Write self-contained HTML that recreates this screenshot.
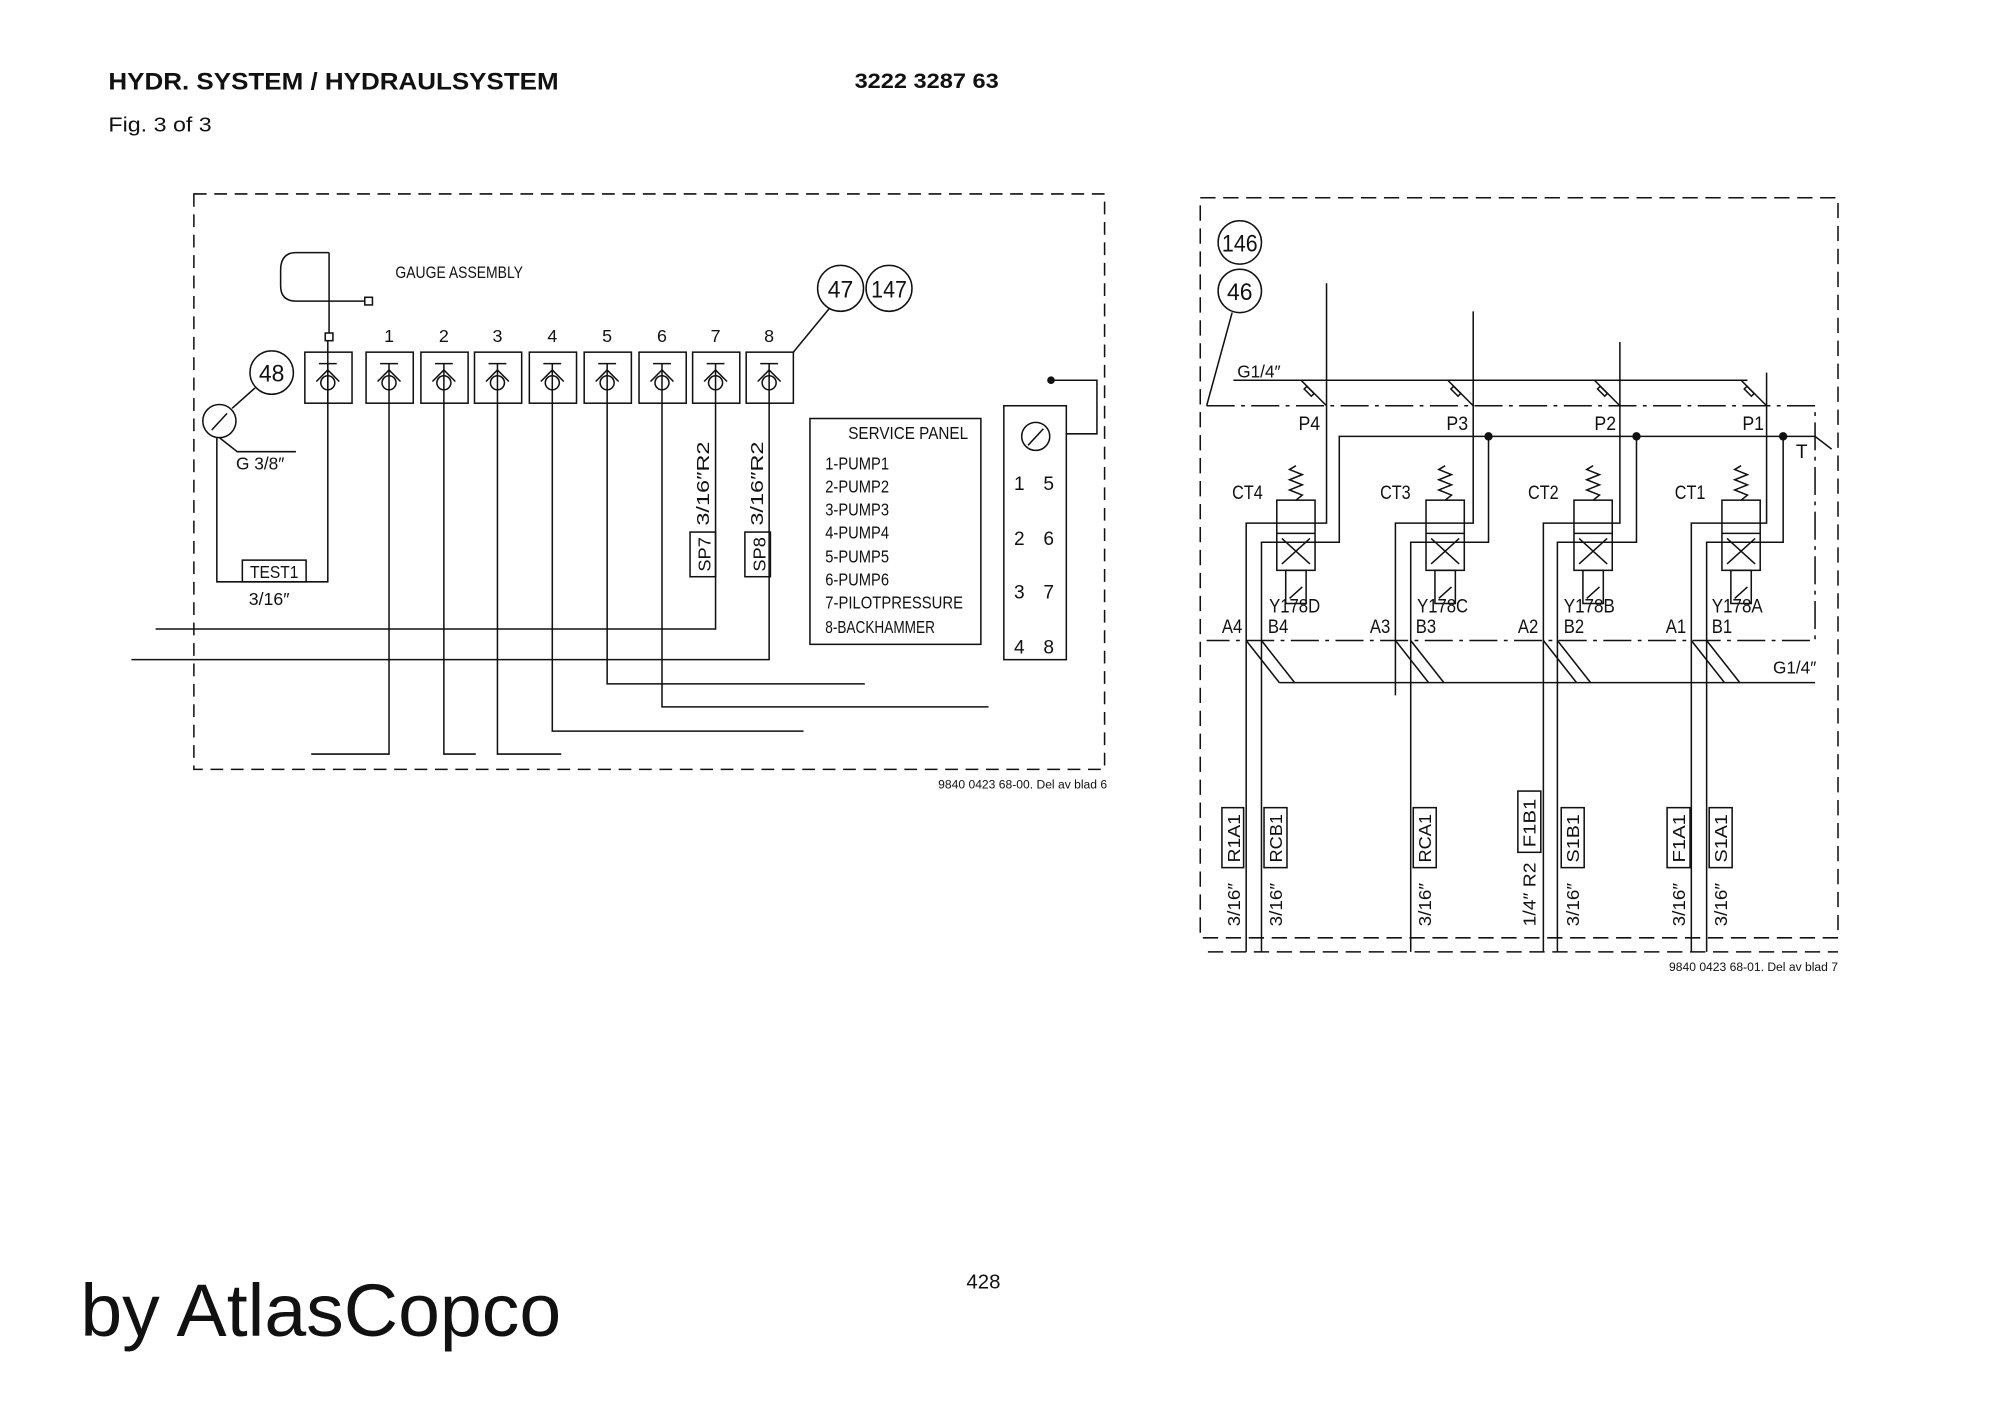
<!DOCTYPE html>
<html><head><meta charset="utf-8"><style>
html,body{margin:0;padding:0;background:#fff;}
svg{display:block;}
.n{font-family:"Liberation Sans Narrow","Liberation Sans",sans-serif;font-size:14px;fill:#111;}
.s{font-family:"Liberation Sans",sans-serif;fill:#111;}
</style></head><body>
<svg width="2000" height="1415" viewBox="0 0 1568 1109" preserveAspectRatio="none" xmlns="http://www.w3.org/2000/svg">
<defs>
<g id="cv" fill="none" stroke="#111" stroke-width="1.2">
<rect x="-18" y="0" width="37" height="40"/>
<line x1="-7" y1="9" x2="7" y2="9"/>
<line x1="0" y1="9" x2="0" y2="40"/>
<circle cx="0" cy="24" r="5.5"/>
<polyline points="-9,23 0,14 9,23"/>
</g>
<g id="vl" fill="none" stroke="#111" stroke-width="1.2">
<polyline points="0,-27 -5,-24 5,-20 -5,-16 5,-12 -5,-8 5,-4 0,0"/>
<rect x="-15" y="0" width="30" height="55"/>
<line x1="-15" y1="26" x2="15" y2="26"/>
<line x1="-11" y1="30" x2="11" y2="50"/><line x1="11" y1="30" x2="-11" y2="50"/>
<rect x="-8" y="55" width="16" height="26"/>
<line x1="-5" y1="77" x2="5" y2="68"/>
</g>
<g id="dg" stroke="#111" stroke-width="1.2" fill="none">
<line x1="0" y1="0" x2="20" y2="20"/>
<rect x="5" y="5" width="3" height="8" transform="rotate(-45 6 9)"/>
</g>
</defs>
<rect width="1568" height="1109" fill="#fff"/>
<text x="85" y="70" class="s" font-size="19" font-weight="bold" textLength="353" lengthAdjust="spacingAndGlyphs">HYDR. SYSTEM / HYDRAULSYSTEM</text>
<text x="670" y="69" class="s" font-size="17" font-weight="bold" textLength="113" lengthAdjust="spacingAndGlyphs">3222 3287 63</text>
<text x="85" y="103" class="s" font-size="16" textLength="81" lengthAdjust="spacingAndGlyphs">Fig. 3 of 3</text>

<g fill="none" stroke="#111" stroke-width="1.2">
<rect x="152" y="152" width="714" height="451" stroke-dasharray="10,6"/>
<path d="M258,198 L232,198 Q220,198 220,212 L220,224 Q220,236 232,236 L286,236"/>
<rect x="286" y="233" width="6" height="6"/>
<line x1="258" y1="198" x2="258" y2="261"/>
<rect x="255" y="261" width="6" height="6"/>
<circle cx="213" cy="292" r="17"/>
<circle cx="172" cy="330" r="13"/>
<line x1="200" y1="304" x2="182" y2="320"/>
<line x1="178" y1="324" x2="166" y2="337"/>
<polyline points="172,343 186,354 232,354"/>
<polyline points="170,343 170,456 257,456 257,267"/>
<rect x="190" y="439" width="50" height="17"/>
<polyline points="305,316 305,591 244,591"/>
<polyline points="348,316 348,591 373,591"/>
<polyline points="390,316 390,591 440,591"/>
<polyline points="433,316 433,573 630,573"/>
<polyline points="476,316 476,536 678,536"/>
<polyline points="519,316 519,554 775,554"/>
<polyline points="561,316 561,493 122,493"/>
<polyline points="603,316 603,517 103,517"/>
<rect x="541" y="417" width="20" height="35"/>
<rect x="584" y="417" width="20" height="35"/>
<circle cx="659" cy="226" r="18"/>
<circle cx="697" cy="226" r="18"/>
<line x1="650" y1="242" x2="622" y2="276"/>
<rect x="635" y="328" width="134" height="177"/>
<rect x="787" y="318" width="49" height="199"/>
<circle cx="812" cy="342" r="11"/>
<line x1="806" y1="349" x2="818" y2="336"/>
<polyline points="824,298 860,298 860,340 836,340"/>
</g>
<circle cx="824" cy="298" r="3" fill="#111"/>
<use href="#cv" x="257" y="276"/>
<use href="#cv" x="305" y="276"/><use href="#cv" x="348" y="276"/><use href="#cv" x="390" y="276"/>
<use href="#cv" x="433" y="276"/><use href="#cv" x="476" y="276"/><use href="#cv" x="519" y="276"/>
<use href="#cv" x="561" y="276"/><use href="#cv" x="603" y="276"/>
<g class="n">
<text x="310" y="218" font-size="13" textLength="100" lengthAdjust="spacingAndGlyphs">GAUGE ASSEMBLY</text>
<text x="305" y="268" text-anchor="middle">1</text><text x="348" y="268" text-anchor="middle">2</text>
<text x="390" y="268" text-anchor="middle">3</text><text x="433" y="268" text-anchor="middle">4</text>
<text x="476" y="268" text-anchor="middle">5</text><text x="519" y="268" text-anchor="middle">6</text>
<text x="561" y="268" text-anchor="middle">7</text><text x="603" y="268" text-anchor="middle">8</text>
<text x="213" y="299" text-anchor="middle" font-size="19" textLength="20" lengthAdjust="spacingAndGlyphs">48</text>
<text x="659" y="233" text-anchor="middle" font-size="19" textLength="20" lengthAdjust="spacingAndGlyphs">47</text>
<text x="697" y="233" text-anchor="middle" font-size="19" textLength="28" lengthAdjust="spacingAndGlyphs">147</text>
<text x="185" y="368" textLength="38" lengthAdjust="spacingAndGlyphs">G 3/8″</text>
<text x="196" y="453" textLength="38" lengthAdjust="spacingAndGlyphs">TEST1</text>
<text x="195" y="474" textLength="32" lengthAdjust="spacingAndGlyphs">3/16″</text>
<text transform="translate(557,448) rotate(-90)" textLength="27" lengthAdjust="spacingAndGlyphs">SP7</text>
<text transform="translate(600,448) rotate(-90)" textLength="27" lengthAdjust="spacingAndGlyphs">SP8</text>
<text transform="translate(556,412) rotate(-90)" textLength="66" lengthAdjust="spacingAndGlyphs">3/16″R2</text>
<text transform="translate(598,412) rotate(-90)" textLength="66" lengthAdjust="spacingAndGlyphs">3/16″R2</text>
<text x="665" y="344" textLength="94" lengthAdjust="spacingAndGlyphs">SERVICE PANEL</text>
<text x="647" y="368" textLength="50" lengthAdjust="spacingAndGlyphs">1-PUMP1</text>
<text x="647" y="386" textLength="50" lengthAdjust="spacingAndGlyphs">2-PUMP2</text>
<text x="647" y="404" textLength="50" lengthAdjust="spacingAndGlyphs">3-PUMP3</text>
<text x="647" y="422" textLength="50" lengthAdjust="spacingAndGlyphs">4-PUMP4</text>
<text x="647" y="441" textLength="50" lengthAdjust="spacingAndGlyphs">5-PUMP5</text>
<text x="647" y="459" textLength="50" lengthAdjust="spacingAndGlyphs">6-PUMP6</text>
<text x="647" y="477" textLength="108" lengthAdjust="spacingAndGlyphs">7-PILOTPRESSURE</text>
<text x="647" y="496" textLength="86" lengthAdjust="spacingAndGlyphs">8-BACKHAMMER</text>
<text x="795" y="384" font-size="15">1</text><text x="818" y="384" font-size="15">5</text>
<text x="795" y="427" font-size="15">2</text><text x="818" y="427" font-size="15">6</text>
<text x="795" y="469" font-size="15">3</text><text x="818" y="469" font-size="15">7</text>
<text x="795" y="512" font-size="15">4</text><text x="818" y="512" font-size="15">8</text>
</g>
<text x="868" y="618" class="s" font-size="9.5" text-anchor="end">9840 0423 68-00. Del av blad 6</text>

<g fill="none" stroke="#111" stroke-width="1.2">
<rect x="941" y="155" width="500" height="580" stroke-dasharray="12,6"/>
<line x1="947" y1="746" x2="1441" y2="746" stroke-dasharray="12,6"/>
<polyline points="946,318 1423,318 1423,502 946,502" stroke-dasharray="22,5,3,5"/>
<circle cx="972" cy="190" r="17"/>
<circle cx="972" cy="228" r="17"/>
<line x1="966" y1="245" x2="946" y2="318"/>
<line x1="967" y1="298" x2="1370" y2="298"/>
<polyline points="1040,222 1040,410 977,410 977,746"/>
<polyline points="1155,244 1155,410 1094,410 1094,545"/>
<polyline points="1270,268 1270,410 1210,410 1210,746"/>
<polyline points="1385,292 1385,410 1326,410 1326,746"/>
<polyline points="989,746 989,425 1050,425 1050,342 1423,342 1436,352"/>
<polyline points="1106,746 1106,425 1167,425 1167,342"/>
<polyline points="1221,746 1221,425 1283,425 1283,342"/>
<polyline points="1338,746 1338,425 1398,425 1398,342"/>
<line x1="1003" y1="535" x2="1423" y2="535"/>
<rect x="958" y="633" width="17" height="47"/><rect x="991" y="633" width="18" height="47"/>
<rect x="1108" y="633" width="18" height="47"/><rect x="1190" y="620" width="18" height="48"/>
<rect x="1224" y="633" width="18" height="47"/><rect x="1307" y="633" width="18" height="47"/>
<rect x="1340" y="633" width="18" height="47"/>
</g>
<g fill="#111">
<circle cx="1167" cy="342" r="3.3"/><circle cx="1283" cy="342" r="3.3"/><circle cx="1398" cy="342" r="3.3"/>
</g>
<use href="#dg" x="1020" y="298"/><use href="#dg" x="1135" y="298"/><use href="#dg" x="1250" y="298"/><use href="#dg" x="1365" y="298"/>
<g stroke="#111" stroke-width="1.2" fill="none">
<line x1="977" y1="502" x2="1003" y2="535"/><line x1="989" y1="502" x2="1015" y2="535"/>
<line x1="1094" y1="502" x2="1120" y2="535"/><line x1="1106" y1="502" x2="1132" y2="535"/>
<line x1="1210" y1="502" x2="1236" y2="535"/><line x1="1221" y1="502" x2="1247" y2="535"/>
<line x1="1326" y1="502" x2="1352" y2="535"/><line x1="1338" y1="502" x2="1364" y2="535"/>
</g>
<use href="#vl" x="1016" y="392"/><use href="#vl" x="1133" y="392"/>
<use href="#vl" x="1249" y="392"/><use href="#vl" x="1365" y="392"/>
<g class="n">
<text x="972" y="197" text-anchor="middle" font-size="19" textLength="28" lengthAdjust="spacingAndGlyphs">146</text>
<text x="972" y="235" text-anchor="middle" font-size="19" textLength="20" lengthAdjust="spacingAndGlyphs">46</text>
<text x="970" y="296" textLength="34" lengthAdjust="spacingAndGlyphs">G1/4″</text>
<text x="1390" y="528" textLength="34" lengthAdjust="spacingAndGlyphs">G1/4″</text>
<text x="1018" y="337" font-size="15" textLength="17" lengthAdjust="spacingAndGlyphs">P4</text>
<text x="1134" y="337" font-size="15" textLength="17" lengthAdjust="spacingAndGlyphs">P3</text>
<text x="1250" y="337" font-size="15" textLength="17" lengthAdjust="spacingAndGlyphs">P2</text>
<text x="1366" y="337" font-size="15" textLength="17" lengthAdjust="spacingAndGlyphs">P1</text>
<text x="1408" y="359" font-size="15">T</text>
<text x="966" y="391" font-size="15" textLength="24" lengthAdjust="spacingAndGlyphs">CT4</text>
<text x="1082" y="391" font-size="15" textLength="24" lengthAdjust="spacingAndGlyphs">CT3</text>
<text x="1198" y="391" font-size="15" textLength="24" lengthAdjust="spacingAndGlyphs">CT2</text>
<text x="1313" y="391" font-size="15" textLength="24" lengthAdjust="spacingAndGlyphs">CT1</text>
<text x="995" y="480" font-size="15" textLength="40" lengthAdjust="spacingAndGlyphs">Y178D</text>
<text x="1111" y="480" font-size="15" textLength="40" lengthAdjust="spacingAndGlyphs">Y178C</text>
<text x="1226" y="480" font-size="15" textLength="40" lengthAdjust="spacingAndGlyphs">Y178B</text>
<text x="1342" y="480" font-size="15" textLength="40" lengthAdjust="spacingAndGlyphs">Y178A</text>
<text x="958" y="496" font-size="15" textLength="16" lengthAdjust="spacingAndGlyphs">A4</text>
<text x="994" y="496" font-size="15" textLength="16" lengthAdjust="spacingAndGlyphs">B4</text>
<text x="1074" y="496" font-size="15" textLength="16" lengthAdjust="spacingAndGlyphs">A3</text>
<text x="1110" y="496" font-size="15" textLength="16" lengthAdjust="spacingAndGlyphs">B3</text>
<text x="1190" y="496" font-size="15" textLength="16" lengthAdjust="spacingAndGlyphs">A2</text>
<text x="1226" y="496" font-size="15" textLength="16" lengthAdjust="spacingAndGlyphs">B2</text>
<text x="1306" y="496" font-size="15" textLength="16" lengthAdjust="spacingAndGlyphs">A1</text>
<text x="1342" y="496" font-size="15" textLength="16" lengthAdjust="spacingAndGlyphs">B1</text>
<text transform="translate(972,676) rotate(-90)" textLength="38" lengthAdjust="spacingAndGlyphs">R1A1</text>
<text transform="translate(1005,676) rotate(-90)" textLength="38" lengthAdjust="spacingAndGlyphs">RCB1</text>
<text transform="translate(1122,676) rotate(-90)" textLength="38" lengthAdjust="spacingAndGlyphs">RCA1</text>
<text transform="translate(1204,664) rotate(-90)" textLength="38" lengthAdjust="spacingAndGlyphs">F1B1</text>
<text transform="translate(1238,676) rotate(-90)" textLength="38" lengthAdjust="spacingAndGlyphs">S1B1</text>
<text transform="translate(1321,676) rotate(-90)" textLength="38" lengthAdjust="spacingAndGlyphs">F1A1</text>
<text transform="translate(1354,676) rotate(-90)" textLength="38" lengthAdjust="spacingAndGlyphs">S1A1</text>
<text transform="translate(972,726) rotate(-90)" textLength="34" lengthAdjust="spacingAndGlyphs">3/16″</text>
<text transform="translate(1005,726) rotate(-90)" textLength="34" lengthAdjust="spacingAndGlyphs">3/16″</text>
<text transform="translate(1122,726) rotate(-90)" textLength="34" lengthAdjust="spacingAndGlyphs">3/16″</text>
<text transform="translate(1204,726) rotate(-90)" textLength="50" lengthAdjust="spacingAndGlyphs">1/4″ R2</text>
<text transform="translate(1238,726) rotate(-90)" textLength="34" lengthAdjust="spacingAndGlyphs">3/16″</text>
<text transform="translate(1321,726) rotate(-90)" textLength="34" lengthAdjust="spacingAndGlyphs">3/16″</text>
<text transform="translate(1354,726) rotate(-90)" textLength="34" lengthAdjust="spacingAndGlyphs">3/16″</text>
</g>
<text x="1441" y="761" class="s" font-size="9.5" text-anchor="end">9840 0423 68-01. Del av blad 7</text>

<text x="771" y="1010" class="s" font-size="16" text-anchor="middle">428</text>
<text x="63" y="1047" class="s" font-size="58" textLength="377" lengthAdjust="spacingAndGlyphs">by AtlasCopco</text>
</svg>
</body></html>
